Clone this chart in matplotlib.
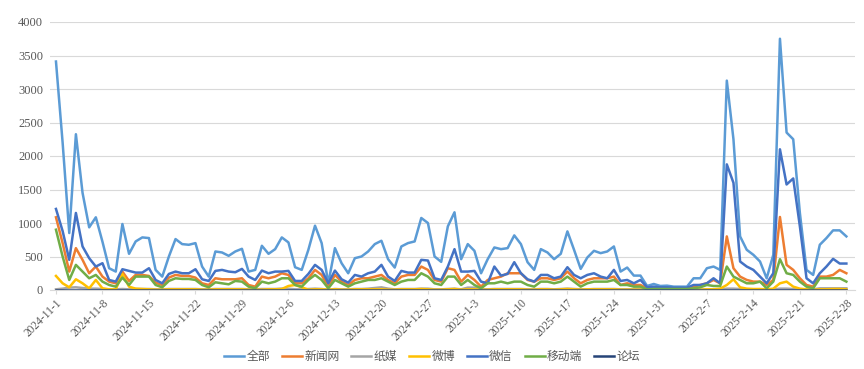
import matplotlib
matplotlib.use("Agg")
import matplotlib.pyplot as plt
import numpy as np

# ─────────────────────────────────────────────
# Data (daily, 2024-11-1 .. 2025-2-28)
# ─────────────────────────────────────────────
total = [3410, 2200, 850, 2325, 1450, 935, 1085, 720, 325, 275,
         985, 540, 725, 785, 775, 300, 200, 500, 760, 685,
         675, 700, 350, 200, 575, 560, 510, 575, 615, 275,
         300, 660, 540, 610, 785, 710, 340, 300, 600, 960,
         700, 100, 625, 400, 250, 475, 500, 575, 685, 735,
         460, 335, 650, 700, 725, 1075, 1000, 500, 420, 950,
         1160, 460, 685, 585, 250, 460, 635, 610, 625, 815,
         685, 415, 300, 610, 560, 460, 540, 875, 600, 315,
         485, 585, 550, 575, 650, 275, 335, 215, 215, 60,
         90, 60, 65, 50, 50, 50, 175, 175, 325, 350,
         300, 3125, 2250, 800, 600, 525, 425, 175, 525, 3750,
         2350, 2250, 1150, 300, 225, 675, 775, 890, 890, 800]

news = [1085, 700, 275, 625, 450, 250, 350, 200, 125, 100,
        275, 135, 225, 225, 210, 110, 75, 185, 225, 210,
        210, 185, 100, 75, 175, 160, 160, 160, 175, 75,
        50, 200, 175, 200, 250, 225, 100, 100, 175, 300,
        225, 50, 225, 125, 75, 150, 175, 175, 200, 225,
        150, 100, 200, 225, 225, 350, 300, 150, 125, 325,
        300, 125, 225, 150, 50, 150, 175, 200, 250, 250,
        250, 150, 125, 175, 175, 150, 175, 275, 175, 100,
        150, 175, 175, 175, 200, 75, 100, 75, 75, 25,
        25, 25, 25, 25, 25, 25, 50, 75, 100, 150,
        100, 800, 325, 200, 150, 125, 125, 75, 150, 1090,
        375, 300, 175, 75, 50, 200, 200, 225, 300, 250]

paper = [10, 20, 35, 40, 30, 20, 20, 15, 10, 10,
         15, 10, 15, 15, 15, 10, 10, 15, 15, 15,
         15, 15, 10, 10, 15, 15, 15, 15, 15, 10,
         10, 15, 15, 15, 20, 20, 10, 10, 15, 20,
         15, 5, 15, 10, 10, 15, 15, 20, 30, 40,
         20, 10, 15, 15, 15, 20, 20, 10, 10, 15,
         20, 10, 35, 35, 10, 10, 15, 15, 15, 15,
         15, 10, 10, 15, 15, 10, 15, 20, 15, 10,
         10, 15, 15, 15, 15, 10, 10, 10, 10, 5,
         5, 5, 5, 5, 5, 5, 5, 5, 10, 10,
         10, 20, 20, 15, 10, 10, 10, 5, 10, 20,
         20, 15, 10, 10, 10, 25, 25, 25, 25, 25]

weibo = [210, 100, 40, 160, 100, 25, 150, 25, 10, 10,
         240, 50, 20, 15, 10, 5, 5, 10, 10, 10,
         10, 10, 5, 5, 10, 10, 10, 10, 10, 5,
         5, 5, 10, 10, 15, 60, 75, 40, 5, 10,
         10, 5, 10, 5, 5, 10, 10, 10, 10, 10,
         5, 5, 10, 10, 10, 15, 10, 5, 5, 10,
         15, 5, 10, 10, 5, 5, 10, 10, 10, 10,
         10, 5, 5, 10, 10, 5, 10, 15, 10, 5,
         10, 10, 10, 10, 10, 5, 5, 5, 5, 0,
         0, 0, 0, 0, 0, 0, 5, 5, 10, 10,
         20, 75, 160, 40, 20, 15, 15, 10, 20, 100,
         125, 50, 20, 10, 5, 10, 10, 15, 15, 10]

wechat = [1210, 880, 450, 1150, 650, 475, 350, 400, 150, 125,
          310, 285, 260, 260, 325, 150, 100, 240, 275, 250,
          250, 310, 160, 135, 285, 300, 275, 265, 315, 200,
          150, 290, 250, 275, 275, 285, 135, 135, 240, 375,
          300, 100, 290, 160, 110, 225, 200, 250, 275, 375,
          200, 135, 285, 260, 260, 450, 440, 175, 150, 350,
          610, 275, 275, 285, 125, 100, 350, 215, 240, 415,
          250, 160, 125, 225, 225, 175, 200, 340, 225, 175,
          225, 250, 200, 175, 300, 135, 150, 100, 150, 40,
          50, 40, 40, 35, 35, 35, 75, 75, 100, 175,
          100, 1875, 1600, 425, 350, 300, 200, 100, 250, 2100,
          1575, 1665, 950, 175, 100, 250, 350, 465, 395, 395]

mobile = [900, 500, 150, 375, 275, 175, 225, 125, 75, 50,
          185, 75, 200, 200, 200, 75, 40, 135, 175, 165,
          165, 150, 75, 40, 115, 100, 85, 135, 125, 50,
          25, 125, 100, 125, 175, 175, 75, 50, 150, 225,
          150, 25, 150, 100, 50, 100, 125, 150, 150, 175,
          125, 75, 125, 150, 150, 250, 200, 100, 75, 200,
          200, 75, 150, 75, 25, 100, 100, 125, 100, 125,
          125, 75, 50, 125, 125, 100, 125, 200, 125, 50,
          100, 125, 125, 125, 150, 75, 75, 50, 50, 10,
          15, 15, 15, 15, 15, 15, 25, 40, 75, 60,
          60, 350, 200, 150, 100, 100, 125, 25, 125, 460,
          250, 225, 125, 50, 25, 175, 175, 175, 175, 125]

forum = [0] * 120

tick_labels = ["2024-11-1", "2024-11-8", "2024-11-15", "2024-11-22", "2024-11-29",
               "2024-12-6", "2024-12-13", "2024-12-20", "2024-12-27", "2025-1-3",
               "2025-1-10", "2025-1-17", "2025-1-24", "2025-1-31", "2025-2-7",
               "2025-2-14", "2025-2-21", "2025-2-28"]

series = [("全部", total, "#5B9BD5"),
          ("新闻网", news, "#ED7D31"),
          ("纸媒", paper, "#A5A5A5"),
          ("微博", weibo, "#FFC000"),
          ("微信", wechat, "#4472C4"),
          ("移动端", mobile, "#70AD47"),
          ("论坛", forum, "#264478")]

plt.rcParams["font.family"] = ["Liberation Serif", "Noto Sans CJK SC", "DejaVu Sans"]
plt.rcParams["font.size"] = 8

fig = plt.figure(figsize=(8.64, 3.69), dpi=100, facecolor="white")
ax = fig.add_axes([50 / 864, 1 - 290 / 369, 805 / 864, 268 / 369])

days = np.arange(len(total))
for name, vals, col in series:
    ax.plot(days, vals, color=col, linewidth=1.8, label=name, solid_joinstyle="round")

ax.set_ylim(0, 4000)
ax.set_yticks(np.arange(0, 4001, 500))
ax.set_xlim(-0.9, 120.3)
ax.set_xticks(days[::7])
ax.set_xticklabels(tick_labels, rotation=45, ha="right", rotation_mode="anchor",
                   fontsize=8.3)

ax.grid(axis="y", color="#D9D9D9", linewidth=0.8)
ax.set_axisbelow(True)
for s in ["top", "right", "left"]:
    ax.spines[s].set_visible(False)
ax.spines["bottom"].set_color("#D9D9D9")
ax.tick_params(axis="y", length=0, pad=5, colors="#595959", labelsize=9)
ax.tick_params(axis="x", length=3, color="#D9D9D9", pad=2, labelcolor="#595959")

fig.legend(loc="center", bbox_to_anchor=(0.5, 0.033), ncol=7, frameon=False,
           handlelength=1.7, columnspacing=1.0, handletextpad=0.2,
           prop={"size": 8.5}, labelcolor="#595959")

fig.savefig("out.png", dpi=100)
